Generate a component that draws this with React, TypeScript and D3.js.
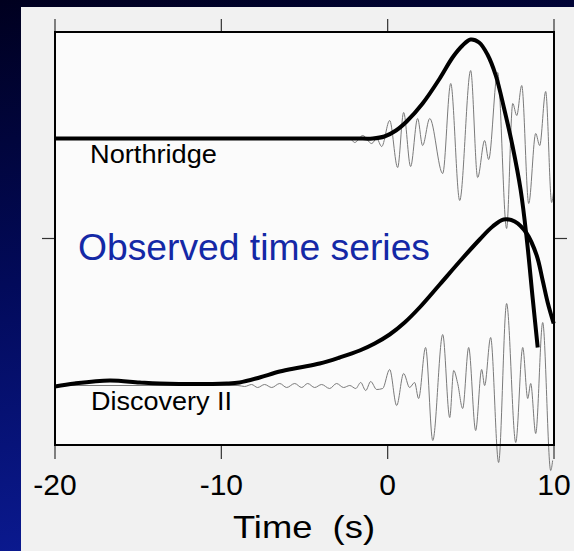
import React from "react";
import * as d3 from "d3";

// ---- data (time in s, amplitude in arbitrary units) ----
const xTicks = [-20, -10, 0, 10];
const xTickLabels = ["-20", "-10", "0", "10"];
const yTicks = [0];

const northTraceT = [-20, -3.0, -2.28, -1.98, -1.5, -0.96, -0.66, -0.36, 0.12, 0.6, 0.96, 1.38, 1.8, 2.1, 2.53, 3.31, 3.79, 4.33, 4.99, 5.41, 5.83, 6.07, 6.61, 7.15, 7.52, 7.76, 8.06, 8.48, 8.9, 9.14, 9.5, 9.86, 9.98];
const northTraceA = [100, 100, 100, 96, 103, 95, 100, 92, 118, 71, 126, 72, 120, 93, 120, 65, 155, 38, 168, 61, 98, 79, 166, 10, 135, 123, 153, 35, 105, 93, 147, 36, 48];

const discTraceT = [-20, -9.0, -8.6, -8.18, -7.82, -7.4, -6.97, -6.49, -6.07, -5.59, -5.17, -4.81, -4.39, -3.97, -3.49, -3.07, -2.65, -2.28, -1.92, -1.62, -1.32, -1.02, -0.66, -0.3, 0.12, 0.54, 0.96, 1.32, 1.62, 1.86, 2.28, 2.71, 3.31, 3.73, 3.97, 4.21, 4.51, 4.87, 5.29, 5.65, 5.83, 6.19, 6.67, 7.15, 7.7, 8.12, 8.42, 8.6, 8.9, 9.32, 9.8, 9.92];
const discTraceA = [-147, -147, -148, -146, -149, -146, -149, -145, -149, -145, -149, -145, -149, -146, -150, -145, -149, -147, -150, -144, -152, -143, -151, -150, -131, -167, -135, -149, -144, -160, -109, -202, -96, -179, -132, -145, -170, -109, -192, -131, -147, -99, -224, -65, -204, -109, -160, -145, -195, -84, -232, -222];

const northEnvT = [-20, -11.3, -2.0, -0.9, -0.2, 0.5, 1.14, 2.1, 3.13, 3.9, 4.5, 4.99, 5.5, 6.0, 6.5, 7.0, 7.5, 8.0, 8.36, 8.72, 9.02];
const northEnvA = [100, 100, 100, 100, 102, 108, 117, 135, 160, 181, 193, 199, 196, 184, 163, 130, 93, 48, 0, -60, -109];

const discEnvT = [-20, -18.82, -16.71, -14.91, -13.71, -9.68, -8.9, -7.7, -6.49, -5.29, -4.09, -2.89, -1.68, -0.78, 0.12, 1.02, 1.92, 3.13, 4.33, 5.53, 6.31, 6.97, 7.64, 8.36, 8.96, 9.32, 9.62, 9.98];
const discEnvA = [-148, -145, -142, -144, -145, -145, -144, -139, -133, -129, -125, -119, -112, -105, -96, -84, -69, -46, -23, -1, 12, 19, 17, 5, -17, -42, -64, -85];

const traceNames = ["Northridge", "Discovery II"];
const titleText = "Observed time series";
const xLabel = "Time  (s)";

export default function App() {
  const W = 574, H = 551;
  const left = 55, right = 554, top = 32, bottom = 445;
  const x = d3.scaleLinear().domain([-20, 10]).range([left, right]);
  const y = d3.scaleLinear().domain([-206.5, 206.5]).range([bottom, top]);

  const mk = (ts: number[], as: number[]) => ts.map((t, i) => [t, as[i]] as [number, number]);
  const trace = d3.line<[number, number]>().x(d => x(d[0])).y(d => y(d[1])).curve(d3.curveMonotoneX);
  const env = d3.line<[number, number]>().x(d => x(d[0])).y(d => y(d[1])).curve(d3.curveCatmullRom.alpha(0.5));

  const font = "'Liberation Sans', Arial, Helvetica, sans-serif";

  return (
    <svg width={W} height={H} style={{ position: "absolute", left: 0, top: 0 }}>
      <defs>
        <linearGradient id="bg" x1="0" y1="0" x2="0.2" y2="1">
          <stop offset="0" stopColor="#00001f" />
          <stop offset="0.5" stopColor="#020a5a" />
          <stop offset="1" stopColor="#0b1a92" />
        </linearGradient>
      </defs>
      <rect x={0} y={0} width={W} height={H} fill="url(#bg)" />
      <rect x={21} y={7} width={W - 21} height={H - 7} fill="#f1f1f1" />
      <rect x={left} y={top} width={right - left} height={bottom - top} fill="#fbfbfb" />

      {/* ticks */}
      {xTicks.map(t => (
        <g key={"t" + t}>
          <line x1={x(t)} x2={x(t)} y1={top - 13} y2={top} stroke="#333" strokeWidth={1.2} />
          <line x1={x(t)} x2={x(t)} y1={bottom} y2={bottom + 14} stroke="#333" strokeWidth={1.2} />
        </g>
      ))}
      {yTicks.map(v => (
        <g key={"y" + v}>
          <line x1={left - 13} x2={left} y1={y(v)} y2={y(v)} stroke="#333" strokeWidth={1.2} />
          <line x1={right} x2={right + 13} y1={y(v)} y2={y(v)} stroke="#333" strokeWidth={1.2} />
        </g>
      ))}

      {/* seismograms */}
      <path d={trace(mk(northTraceT, northTraceA)) || ""} fill="none" stroke="#7a7a7a" strokeWidth={1} />
      <path d={trace(mk(discTraceT, discTraceA)) || ""} fill="none" stroke="#7a7a7a" strokeWidth={1} />

      {/* envelopes */}
      <path d={env(mk(northEnvT, northEnvA)) || ""} fill="none" stroke="#000" strokeWidth={4} strokeLinecap="butt" strokeLinejoin="round" />
      <path d={env(mk(discEnvT, discEnvA)) || ""} fill="none" stroke="#000" strokeWidth={4} strokeLinecap="butt" strokeLinejoin="round" />

      {/* frame */}
      <rect x={left} y={top} width={right - left} height={bottom - top} fill="none" stroke="#000" strokeWidth={2} />

      {/* labels */}
      <text x={90} y={163} fontFamily={font} fontSize={25} fill="#000" textLength={127} lengthAdjust="spacingAndGlyphs">{traceNames[0]}</text>
      <text x={91} y={410} fontFamily={font} fontSize={25} fill="#000" textLength={141} lengthAdjust="spacingAndGlyphs">{traceNames[1]}</text>
      <text x={78} y={260} fontFamily={font} fontSize={37} fill="#1428a6" textLength={352} lengthAdjust="spacingAndGlyphs">{titleText}</text>

      {xTicks.map((t, i) => (
        <text key={"l" + t} x={x(t)} y={495} fontFamily={font} fontSize={30} fill="#000" textAnchor="middle">{xTickLabels[i]}</text>
      ))}
      <text x={233} y={538} fontFamily={font} fontSize={32} fill="#000" textLength={142} lengthAdjust="spacingAndGlyphs" style={{ whiteSpace: "pre" }}>{xLabel}</text>
    </svg>
  );
}
